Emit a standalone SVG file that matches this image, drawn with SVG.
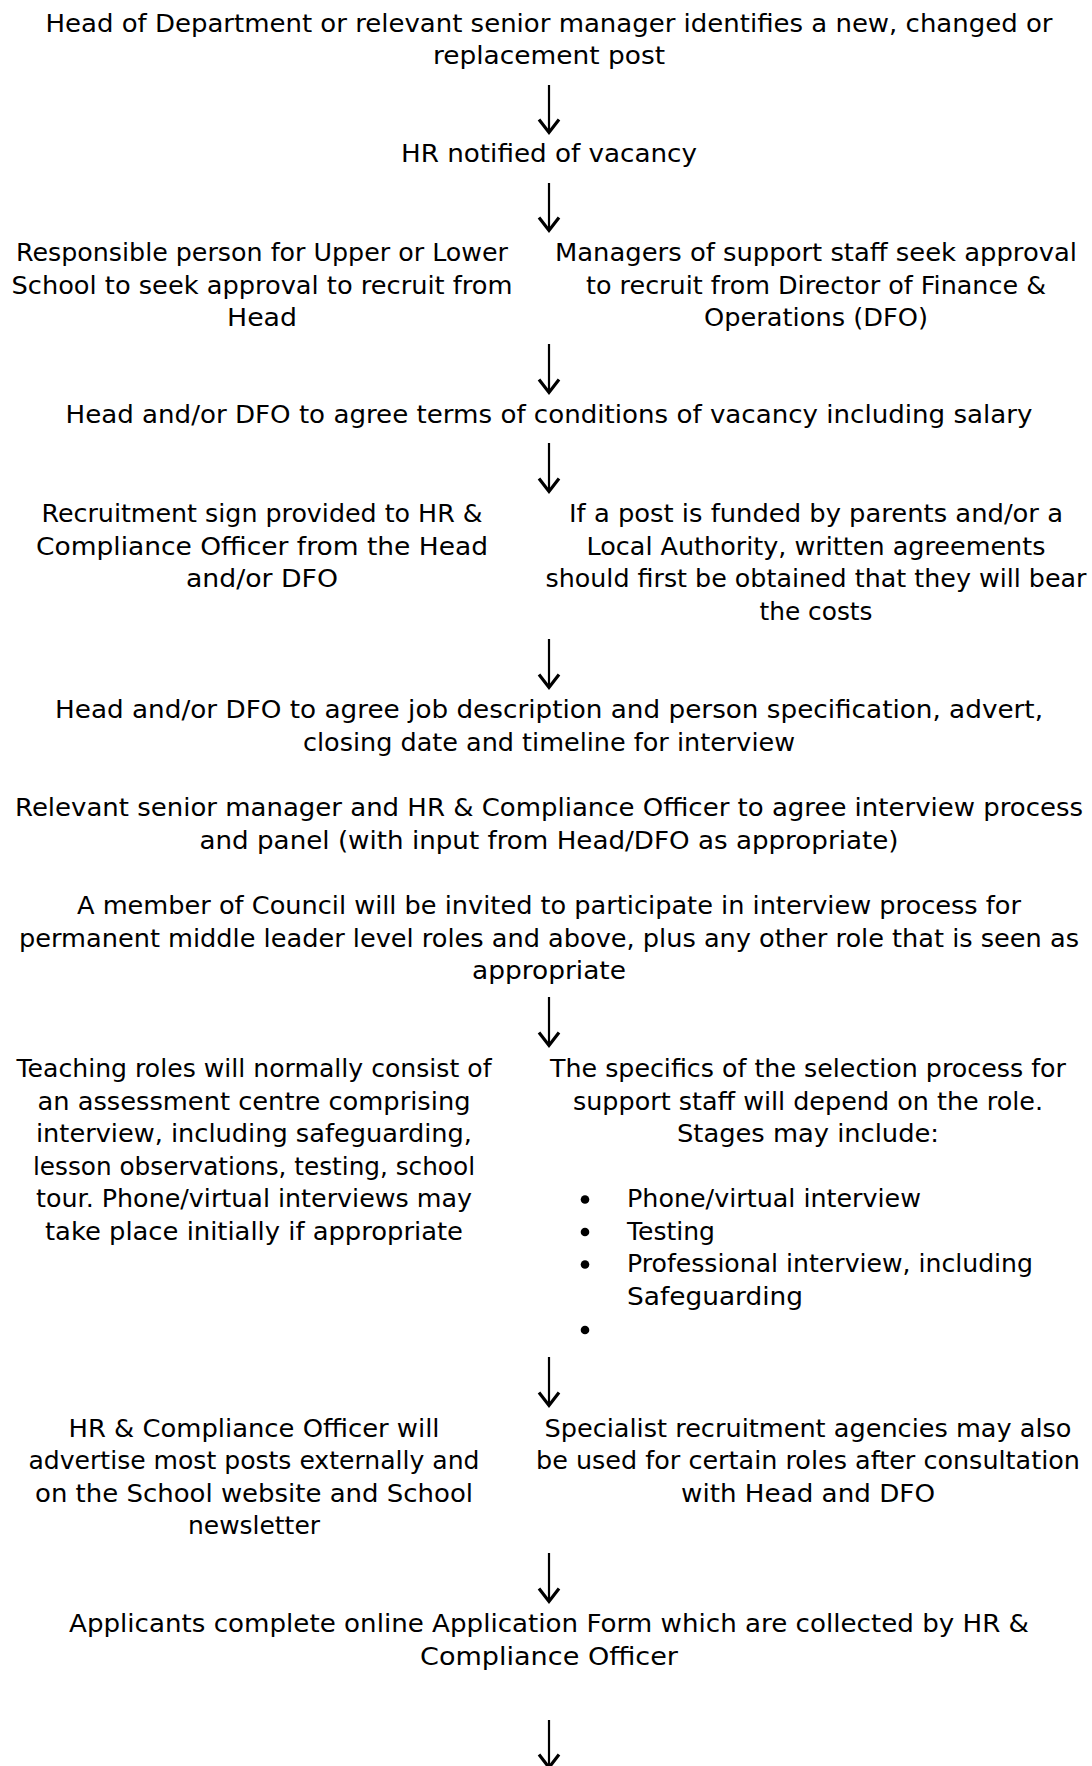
<svg xmlns="http://www.w3.org/2000/svg" width="1092" height="1766" viewBox="0 0 1092 1766">
<style>
  text { font-family: "DejaVu Sans", "Liberation Sans", sans-serif; font-size: 25px; fill: #000; }
  .c { text-anchor: middle; }
  .s { text-anchor: start; }
  .conn line { stroke: #000; stroke-width: 2.2; fill: none; }
</style>
<defs>
  <marker id="arr" markerUnits="userSpaceOnUse" markerWidth="22" markerHeight="24" viewBox="0 0 22 24" refX="17" refY="12" orient="auto">
    <path d="M 3.5,2 L 16.5,12 L 3.5,22" fill="none" stroke="#000" stroke-width="3.2" stroke-linejoin="miter"/>
  </marker>
</defs>
<rect width="1092" height="1766" fill="#fff"/>

<g id="n1">
  <text class="c" x="549" y="32" textLength="1007" lengthAdjust="spacingAndGlyphs">Head of Department or relevant senior manager identifies a new, changed or</text>
  <text class="c" x="549" y="64" textLength="232" lengthAdjust="spacingAndGlyphs">replacement post</text>
</g>
<g id="n2">
  <text class="c" x="549" y="162" textLength="296" lengthAdjust="spacingAndGlyphs">HR notified of vacancy</text>
</g>
<g id="n3">
  <text class="c" x="262" y="261" textLength="492" lengthAdjust="spacingAndGlyphs">Responsible person for Upper or Lower</text>
  <text class="c" x="262" y="293.5" textLength="501" lengthAdjust="spacingAndGlyphs">School to seek approval to recruit from</text>
  <text class="c" x="262" y="326" textLength="70" lengthAdjust="spacingAndGlyphs">Head</text>
</g>
<g id="n4">
  <text class="c" x="816" y="261" textLength="522" lengthAdjust="spacingAndGlyphs">Managers of support staff seek approval</text>
  <text class="c" x="816" y="293.5" textLength="460" lengthAdjust="spacingAndGlyphs">to recruit from Director of Finance &amp;</text>
  <text class="c" x="816" y="326" textLength="224" lengthAdjust="spacingAndGlyphs">Operations (DFO)</text>
</g>
<g id="n5">
  <text class="c" x="549" y="423" textLength="967" lengthAdjust="spacingAndGlyphs">Head and/or DFO to agree terms of conditions of vacancy including salary</text>
</g>
<g id="n6">
  <text class="c" x="262" y="522" textLength="441" lengthAdjust="spacingAndGlyphs">Recruitment sign provided to HR &amp;</text>
  <text class="c" x="262" y="554.5" textLength="452" lengthAdjust="spacingAndGlyphs">Compliance Officer from the Head</text>
  <text class="c" x="262" y="587" textLength="152" lengthAdjust="spacingAndGlyphs">and/or DFO</text>
</g>
<g id="n7">
  <text class="c" x="816" y="522" textLength="494" lengthAdjust="spacingAndGlyphs">If a post is funded by parents and/or a</text>
  <text class="c" x="816" y="554.5" textLength="459" lengthAdjust="spacingAndGlyphs">Local Authority, written agreements</text>
  <text class="c" x="816" y="587" textLength="541" lengthAdjust="spacingAndGlyphs">should first be obtained that they will bear</text>
  <text class="c" x="816" y="619.5" textLength="113" lengthAdjust="spacingAndGlyphs">the costs</text>
</g>
<g id="n8">
  <text class="c" x="549" y="718" textLength="988" lengthAdjust="spacingAndGlyphs">Head and/or DFO to agree job description and person specification, advert,</text>
  <text class="c" x="549" y="750.5" textLength="492" lengthAdjust="spacingAndGlyphs">closing date and timeline for interview</text>
</g>
<g id="n9">
  <text class="c" x="549" y="816" textLength="1068" lengthAdjust="spacingAndGlyphs">Relevant senior manager and HR &amp; Compliance Officer to agree interview process</text>
  <text class="c" x="549" y="848.5" textLength="699" lengthAdjust="spacingAndGlyphs">and panel (with input from Head/DFO as appropriate)</text>
</g>
<g id="n10">
  <text class="c" x="549" y="914" textLength="944" lengthAdjust="spacingAndGlyphs">A member of Council will be invited to participate in interview process for</text>
  <text class="c" x="549" y="946.5" textLength="1060" lengthAdjust="spacingAndGlyphs">permanent middle leader level roles and above, plus any other role that is seen as</text>
  <text class="c" x="549" y="979" textLength="154" lengthAdjust="spacingAndGlyphs">appropriate</text>
</g>
<g id="n11">
  <text class="c" x="254" y="1077" textLength="475" lengthAdjust="spacingAndGlyphs">Teaching roles will normally consist of</text>
  <text class="c" x="254" y="1109.5" textLength="433" lengthAdjust="spacingAndGlyphs">an assessment centre comprising</text>
  <text class="c" x="254" y="1142" textLength="436" lengthAdjust="spacingAndGlyphs">interview, including safeguarding,</text>
  <text class="c" x="254" y="1174.5" textLength="442" lengthAdjust="spacingAndGlyphs">lesson observations, testing, school</text>
  <text class="c" x="254" y="1207" textLength="436" lengthAdjust="spacingAndGlyphs">tour. Phone/virtual interviews may</text>
  <text class="c" x="254" y="1239.5" textLength="418" lengthAdjust="spacingAndGlyphs">take place initially if appropriate</text>
</g>
<g id="n12">
  <text class="c" x="808" y="1077" textLength="516" lengthAdjust="spacingAndGlyphs">The specifics of the selection process for</text>
  <text class="c" x="808" y="1109.5" textLength="470" lengthAdjust="spacingAndGlyphs">support staff will depend on the role.</text>
  <text class="c" x="808" y="1142" textLength="262" lengthAdjust="spacingAndGlyphs">Stages may include:</text>
  <circle cx="585" cy="1199.5" r="4.3"/>
  <text class="s" x="627" y="1207" textLength="294" lengthAdjust="spacingAndGlyphs">Phone/virtual interview</text>
  <circle cx="585" cy="1232" r="4.3"/>
  <text class="s" x="627" y="1239.5" textLength="88" lengthAdjust="spacingAndGlyphs">Testing</text>
  <circle cx="585" cy="1264.5" r="4.3"/>
  <text class="s" x="627" y="1272" textLength="406" lengthAdjust="spacingAndGlyphs">Professional interview, including</text>
  <text class="s" x="627" y="1304.5" textLength="176" lengthAdjust="spacingAndGlyphs">Safeguarding</text>
  <circle cx="585" cy="1330" r="4.3"/>
</g>
<g id="n13">
  <text class="c" x="254" y="1436.5" textLength="371" lengthAdjust="spacingAndGlyphs">HR &amp; Compliance Officer will</text>
  <text class="c" x="254" y="1469" textLength="451" lengthAdjust="spacingAndGlyphs">advertise most posts externally and</text>
  <text class="c" x="254" y="1501.5" textLength="438" lengthAdjust="spacingAndGlyphs">on the School website and School</text>
  <text class="c" x="254" y="1534" textLength="132" lengthAdjust="spacingAndGlyphs">newsletter</text>
</g>
<g id="n14">
  <text class="c" x="808" y="1436.5" textLength="527" lengthAdjust="spacingAndGlyphs">Specialist recruitment agencies may also</text>
  <text class="c" x="808" y="1469" textLength="544" lengthAdjust="spacingAndGlyphs">be used for certain roles after consultation</text>
  <text class="c" x="808" y="1501.5" textLength="254" lengthAdjust="spacingAndGlyphs">with Head and DFO</text>
</g>
<g id="n15">
  <text class="c" x="549" y="1632" textLength="960" lengthAdjust="spacingAndGlyphs">Applicants complete online Application Form which are collected by HR &amp;</text>
  <text class="c" x="549" y="1664.5" textLength="258" lengthAdjust="spacingAndGlyphs">Compliance Officer</text>
</g>

<g id="connectors" class="conn">
  <line x1="549" y1="85" x2="549" y2="133" marker-end="url(#arr)"/>
  <line x1="549" y1="183" x2="549" y2="231" marker-end="url(#arr)"/>
  <line x1="549" y1="344" x2="549" y2="393" marker-end="url(#arr)"/>
  <line x1="549" y1="443" x2="549" y2="492" marker-end="url(#arr)"/>
  <line x1="549" y1="639" x2="549" y2="688" marker-end="url(#arr)"/>
  <line x1="549" y1="997" x2="549" y2="1046" marker-end="url(#arr)"/>
  <line x1="549" y1="1357" x2="549" y2="1406" marker-end="url(#arr)"/>
  <line x1="549" y1="1553" x2="549" y2="1602" marker-end="url(#arr)"/>
  <line x1="549" y1="1720" x2="549" y2="1768" marker-end="url(#arr)"/>
</g>
</svg>
